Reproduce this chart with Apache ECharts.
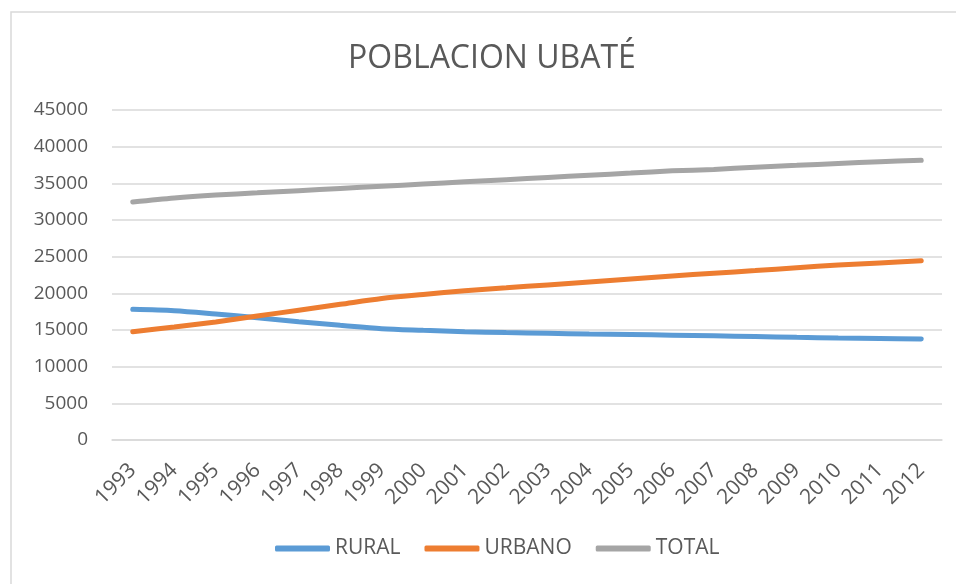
<!DOCTYPE html>
<html>
<head>
<meta charset="utf-8">
<script src="https://cdn.jsdelivr.net/npm/echarts@6/dist/echarts.min.js"></script>
<style>
  html, body { margin: 0; padding: 0; background: #fff; }
  #main { width: 956px; height: 584px; }
</style>
</head>
<body>
<div id="main"></div>
<script>
var years = ['1993', '1994', '1995', '1996', '1997', '1998', '1999', '2000', '2001', '2002',
             '2003', '2004', '2005', '2006', '2007', '2008', '2009', '2010', '2011', '2012'];
var rural = [17820, 17630, 17180, 16680, 16130, 15640, 15180, 14960, 14770, 14650,
             14550, 14450, 14380, 14300, 14200, 14100, 14000, 13920, 13850, 13770];
var urbano = [14770, 15400, 16100, 16900, 17700, 18500, 19300, 19850, 20350, 20750,
              21150, 21550, 21950, 22350, 22750, 23100, 23500, 23850, 24150, 24450];
var total = [32450, 33000, 33400, 33700, 34000, 34300, 34600, 34900, 35200, 35500,
             35800, 36100, 36400, 36700, 36900, 37200, 37450, 37700, 37950, 38150];
var yTicks = [0, 5000, 10000, 15000, 20000, 25000, 30000, 35000, 40000, 45000];

var txt = '#595959';
var font = '"Open Sans", sans-serif';

var chart = echarts.init(document.getElementById('main'));

function lineSeries(name, data, color) {
    return {
        name: name,
        type: 'line',
        data: data,
        smooth: 0.3,
        symbol: 'none',
        lineStyle: { color: color, width: 5, cap: 'round' },
        itemStyle: { color: color }
    };
}

option = {
    animation: false,
    backgroundColor: '#fff',
    textStyle: { fontFamily: font },
    graphic: [{
        type: 'rect',
        shape: { x: 11, y: 12, width: 960, height: 600 },
        style: { fill: 'none', stroke: '#d9d9d9', lineWidth: 1.5 },
        silent: true
    }],
    title: {
        text: 'POBLACION UBATÉ',
        left: 487,
        textAlign: 'center',
        top: 38,
        textStyle: { color: txt, fontSize: 32, fontWeight: 'normal', fontFamily: font }
    },
    legend: {
        bottom: 20,
        left: 270,
        icon: 'roundRect',
        itemWidth: 55,
        itemHeight: 6,
        itemGap: 24,
        textStyle: { color: txt, fontSize: 21, fontFamily: font },
        data: ['RURAL', 'URBANO', 'TOTAL']
    },
    grid: { left: 112, right: 14, top: 110, height: 330, containLabel: false },
    xAxis: {
        type: 'category',
        data: years,
        boundaryGap: true,
        axisLine: { lineStyle: { color: '#d9d9d9', width: 1.5 } },
        axisTick: { show: false },
        axisLabel: { color: txt, fontSize: 21, rotate: 45, margin: 27, interval: 0, fontFamily: font }
    },
    yAxis: {
        type: 'value',
        min: yTicks[0],
        max: yTicks[yTicks.length - 1],
        interval: 5000,
        axisLine: { show: false },
        axisTick: { show: false },
        axisLabel: {
            color: txt, fontSize: 19, margin: 24, fontFamily: font,
            formatter: function (v) { return String(v); }
        },
        splitLine: { lineStyle: { color: '#d9d9d9', width: 1.5 } }
    },
    series: [
        lineSeries('RURAL', rural, '#5B9BD5'),
        lineSeries('URBANO', urbano, '#ED7D31'),
        lineSeries('TOTAL', total, '#A5A5A5')
    ]
};

chart.setOption(option, true);
</script>
</body>
</html>
